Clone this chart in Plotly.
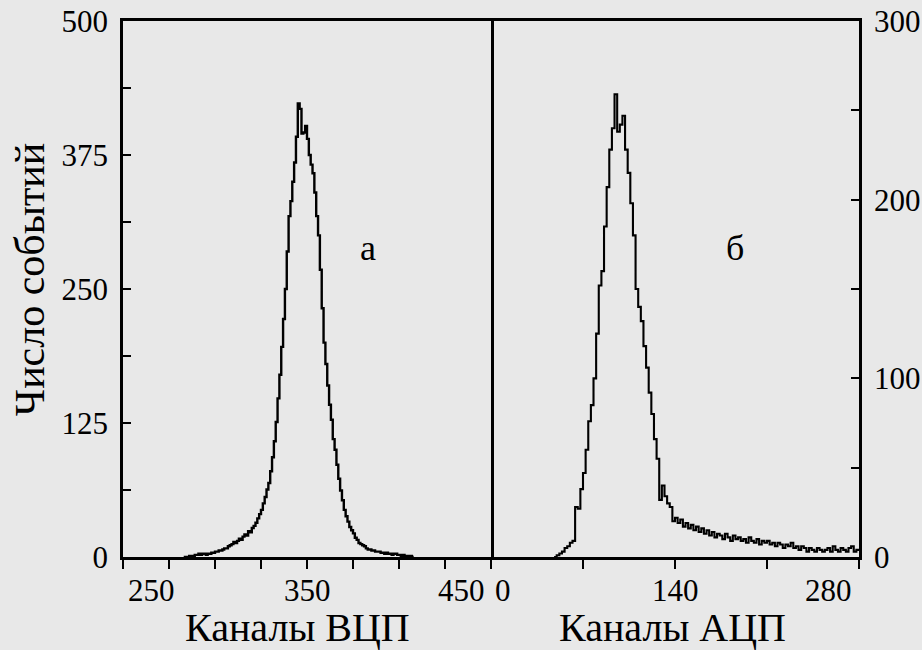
import plotly.graph_objects as go

# ---------------- data ----------------
# left panel: TDC (ВЦП) channels, 1-channel bins (left edges)
left_bin_start = 283
left_bin_width = 1
left_counts = [
    0, 0, 0, 1, 1, 1, 2, 2, 3, 2,      # 283-292
    3, 3, 2, 3, 3, 4, 4, 5, 5, 6,      # 293-302
    6, 7, 8, 8, 10, 11, 12, 14, 13, 15,  # 303-312
    17, 16, 19, 21, 20, 24, 23, 27, 29, 32,  # 313-322
    36, 40, 44, 50, 56, 63, 69, 80, 93, 108,  # 323-332
    126, 148, 170, 196, 222, 250, 285, 318, 332, 350,  # 333-342
    368, 392, 423, 418, 395, 396, 402, 390, 375, 366,  # 343-352
    358, 340, 318, 300, 268, 232, 200, 180, 160, 142,  # 353-362
    128, 110, 100, 86, 73, 62, 53, 44, 38, 33,  # 363-372
    28, 25, 22, 18, 16, 13, 12, 11, 10, 8,  # 373-382
    7, 7, 6, 6, 5, 5, 5, 4, 4, 3,      # 383-392
    4, 3, 3, 2, 3, 3, 2, 2, 1, 2,      # 393-402
    1, 1, 0, 1, 0,                     # 403-407
]

# right panel: ADC (АЦП) channels, 2-channel bins (left edges)
right_bin_start = 48
right_bin_width = 2
right_counts = [
    0, 1, 2, 3, 5, 6, 8, 9, 28, 27,          # 48-66
    38, 47, 60, 76, 85, 100, 125, 152, 160, 185,  # 68-86
    207, 228, 240, 259, 238, 242, 247, 228, 215, 198,  # 88-106
    180, 150, 140, 132, 118, 106, 92, 80, 66, 55,  # 108-126
    32, 40, 34, 30, 28, 20, 22, 19, 21, 17,  # 128-146
    19, 16, 18, 15, 17, 14, 16, 13, 15, 12,  # 148-166
    14, 11, 13, 12, 10, 13, 11, 9, 12, 10,   # 168-186
    11, 9, 10, 8, 11, 9, 8, 10, 7, 9,        # 188-206
    8, 9, 7, 8, 6, 8, 7, 5, 7, 6,            # 208-226
    8, 5, 6, 4, 6, 5, 3, 5, 4, 3,            # 228-246
    5, 4, 3, 4, 5, 3, 6, 4, 3, 5,            # 248-266
    4, 3, 5, 6, 3, 4,                        # 268-278
]

left_x_ticks = [250, 275, 300, 325, 350, 375, 400, 425, 450]
left_x_labels = [(250, "250", "left"), (350, "350", "center"), (450, "450", "right")]
right_x_ticks = [0, 70, 140, 210, 280]
right_x_labels = [(0, "0", "left"), (140, "140", "center"), (280, "280", "right")]
left_y_ticks = [0, 62.5, 125, 187.5, 250, 312.5, 375, 437.5, 500]
left_y_text = ["0", "", "125", "", "250", "", "375", "", "500"]
right_y_ticks = [0, 50, 100, 150, 200, 250, 300]
right_y_text = ["0", "", "100", "", "200", "", "300"]

# ---------------- figure ----------------
BG = "#e8e8e8"
FONT = "Liberation Serif"


def step_xy(start, width, counts):
    edges = [start + i * width for i in range(len(counts) + 1)]
    ys = list(counts) + [counts[-1]]
    return edges, ys


lx, ly = step_xy(left_bin_start, left_bin_width, left_counts)
rx, ry = step_xy(right_bin_start, right_bin_width, right_counts)

fig = go.Figure()
fig.add_trace(go.Scatter(x=lx, y=ly, mode="lines", line=dict(shape="hv", color="black", width=2.4),
                         xaxis="x", yaxis="y", hoverinfo="skip"))
fig.add_trace(go.Scatter(x=rx, y=ry, mode="lines", line=dict(shape="hv", color="black", width=2.1),
                         xaxis="x2", yaxis="y2", hoverinfo="skip"))

axis_common = dict(showgrid=False, zeroline=False, showline=True, linecolor="black",
                   linewidth=2.5, tickcolor="black", tickwidth=2, automargin=False)

fig.update_layout(
    width=922, height=650,
    margin=dict(l=123, r=63, t=21, b=93, autoexpand=False),
    paper_bgcolor=BG, plot_bgcolor=BG,
    showlegend=False,
    font=dict(family=FONT, color="black"),
    xaxis=dict(domain=[0, 0.5], range=[250, 450], anchor="y", mirror=True,
               tickmode="array", tickvals=left_x_ticks, ticktext=[""] * len(left_x_ticks),
               ticks="outside", ticklen=9, **axis_common),
    yaxis=dict(range=[0, 500], anchor="x", mirror=True,
               tickmode="array", tickvals=left_y_ticks, ticktext=left_y_text,
               ticks="inside", ticklen=8, ticklabelstandoff=6,
               tickfont=dict(size=31, family=FONT), **axis_common),
    xaxis2=dict(domain=[0.5, 1], range=[0, 280], anchor="y2", mirror=True,
                tickmode="array", tickvals=right_x_ticks, ticktext=[""] * len(right_x_ticks),
                ticks="outside", ticklen=9, **axis_common),
    yaxis2=dict(range=[0, 300], anchor="x2", side="right", mirror=False,
                tickmode="array", tickvals=right_y_ticks, ticktext=right_y_text,
                ticks="inside", ticklen=8, ticklabelstandoff=6,
                tickfont=dict(size=31, family=FONT), **axis_common),
)

annotations = []
for val, txt, anc in left_x_labels:
    annotations.append(dict(x=val, y=-0.062, xref="x", yref="paper", text=txt, showarrow=False,
                            xanchor=anc, yanchor="middle", xshift=(3 if anc == "left" else -4 if anc == "right" else 0),
                            font=dict(size=31, family=FONT)))
for val, txt, anc in right_x_labels:
    annotations.append(dict(x=val, y=-0.062, xref="x2", yref="paper", text=txt, showarrow=False,
                            xanchor=anc, yanchor="middle", xshift=(2 if anc == "left" else -5 if anc == "right" else 0),
                            font=dict(size=31, family=FONT)))
annotations += [
    dict(x=345, y=-0.132, xref="x", yref="paper", text="Каналы ВЦП", showarrow=False,
         xanchor="center", yanchor="middle", font=dict(size=40, family=FONT)),
    dict(x=138, y=-0.132, xref="x2", yref="paper", text="Каналы АЦП", showarrow=False,
         xanchor="center", yanchor="middle", font=dict(size=40, family=FONT)),
    dict(x=-0.126, y=0.517, xref="paper", yref="paper", text="Число событий", showarrow=False,
         textangle=-90, xanchor="center", yanchor="middle", font=dict(size=42, family=FONT)),
    dict(x=383, y=288, xref="x", yref="y", text="а", showarrow=False,
         xanchor="center", yanchor="middle", font=dict(size=36, family=FONT)),
    dict(x=186, y=173, xref="x2", yref="y2", text="б", showarrow=False,
         xanchor="center", yanchor="middle", font=dict(size=36, family=FONT)),
]
fig.update_layout(annotations=annotations)

fig.write_html("out.html", config={"displayModeBar": False},
               post_script="document.body.style.margin='0';document.body.style.padding='0';")
